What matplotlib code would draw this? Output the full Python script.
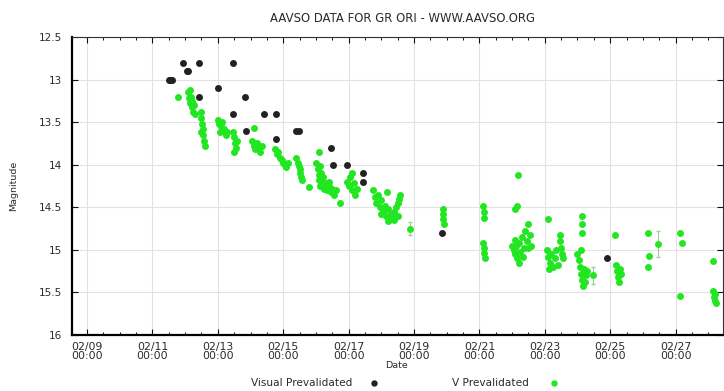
import numpy as np
import pandas as pd
import matplotlib
matplotlib.use('Agg')
import matplotlib.pyplot as plt
import matplotlib.dates as mdates

# observations, day of February 2013 and magnitude
vis_day = [11.50, 11.55, 11.60, 11.94, 12.05, 12.10, 12.43, 12.43, 13.47, 13.00,
           13.83, 13.47, 14.41, 14.78, 13.85, 14.78, 15.40, 15.48, 16.46, 16.52,
           16.95, 17.43, 17.45, 19.86, 24.90]
vis_mag = [13.0, 13.0, 13.0, 12.8, 12.9, 12.9, 12.8, 13.2, 12.8, 13.1,
           13.2, 13.4, 13.4, 13.4, 13.6, 13.7, 13.6, 13.6, 13.8, 14.0,
           14.0, 14.1, 14.2, 14.8, 15.1]

v_day = [11.78, 12.10, 12.12, 12.15, 12.18, 12.20, 12.22, 12.25, 12.28, 12.15, 12.30,
         12.48, 12.50, 12.52, 12.55, 12.55, 12.58, 12.60, 12.50,
         13.00, 13.05, 13.10, 13.12, 13.15, 13.20, 13.25, 13.28, 13.08,
         13.45, 13.50, 13.52, 13.55, 13.58, 13.50, 14.10,
         14.05, 14.10, 14.15, 14.20, 14.25, 14.30, 14.35,
         14.75, 14.80, 14.85, 14.90, 14.95, 15.00, 15.05, 15.10, 15.15,
         15.40, 15.45, 15.50, 15.52, 15.55, 15.58, 15.48, 15.80, 16.10,
         16.00, 16.05, 16.08, 16.10, 16.12, 16.15, 16.20, 16.25, 16.30, 16.35,
         16.40, 16.45, 16.50, 16.55, 16.60, 16.12, 16.75, 16.22, 16.40,
         16.95, 17.00, 17.05, 17.10, 17.15, 17.20, 17.25, 17.10,
         17.75, 17.80, 17.85, 17.90, 17.95, 18.00, 18.05, 18.10, 18.15, 18.20,
         18.25, 18.30, 18.35, 18.40, 18.45, 18.50, 18.55, 18.57, 18.50, 18.17,
         18.00, 18.20, 18.40,
         18.88, 19.88, 19.90, 19.90, 19.92,
         21.12, 21.14, 21.15, 21.12, 21.14, 21.15, 21.16,
         22.18, 22.08, 22.15,
         22.00, 22.05, 22.08, 22.10, 22.15, 22.20, 22.25, 22.30, 22.35, 22.40,
         22.45, 22.50, 22.55, 22.58, 22.20, 22.12, 22.32, 22.48, 23.10,
         23.07, 23.10, 23.15, 23.20, 23.25, 23.30, 23.35, 23.40, 23.12,
         23.45, 23.48, 23.50, 23.52, 23.55,
         24.14, 24.14, 24.14,
         24.00, 24.05, 24.08, 24.10, 24.15, 24.18, 24.20, 24.25, 24.12, 24.22, 24.28,
         24.48, 25.15, 25.18, 25.22, 25.25, 25.28, 25.30, 25.32,
         26.16, 26.20, 26.16, 26.46, 27.13, 27.20, 27.13,
         28.14, 28.15, 28.18, 28.20, 28.22, 28.25]
v_mag = [13.20, 13.15, 13.22, 13.28, 13.20, 13.32, 13.25, 13.38, 13.30, 13.12, 13.40,
         13.38, 13.45, 13.52, 13.58, 13.65, 13.72, 13.78, 13.62,
         13.48, 13.52, 13.55, 13.50, 13.60, 13.58, 13.65, 13.62, 13.62,
         13.62, 13.68, 13.75, 13.80, 13.72, 13.85, 13.57,
         13.72, 13.78, 13.82, 13.75, 13.80, 13.85, 13.78,
         13.82, 13.88, 13.85, 13.92, 13.95, 13.98, 14.00, 14.03, 13.98,
         13.92, 13.98, 14.05, 14.10, 14.15, 14.18, 14.02, 14.26, 13.85,
         13.98, 14.05, 14.12, 14.18, 14.25, 14.10, 14.20, 14.28, 14.22, 14.30,
         14.25, 14.32, 14.28, 14.35, 14.30, 14.02, 14.45, 14.15, 14.20,
         14.20, 14.25, 14.15, 14.30, 14.22, 14.35, 14.28, 14.10,
         14.30, 14.38, 14.45, 14.35, 14.50, 14.42, 14.55, 14.48, 14.60, 14.52,
         14.65, 14.58, 14.62, 14.55, 14.50, 14.45, 14.40, 14.35, 14.60, 14.32,
         14.58, 14.66, 14.65,
         14.75, 14.52, 14.58, 14.64, 14.70,
         14.48, 14.55, 14.62, 14.92, 14.98, 15.04, 15.10,
         14.12, 14.52, 14.48,
         14.95, 15.00, 14.88, 15.05, 15.10, 14.92, 15.02, 14.85, 14.98, 14.78,
         14.90, 14.70, 14.82, 14.95, 15.15, 14.96, 15.08, 14.98, 14.64,
         15.00, 15.08, 15.15, 15.05, 15.20, 15.10, 15.00, 15.18, 15.22,
         14.82, 14.90, 14.98, 15.05, 15.10,
         14.60, 14.70, 14.80,
         15.05, 15.12, 15.20, 15.28, 15.35, 15.42, 15.22, 15.30, 15.00, 15.38, 15.25,
         15.30, 14.83, 15.18, 15.25, 15.32, 15.38, 15.22, 15.28,
         14.80, 15.07, 15.20, 14.93, 14.80, 14.92, 15.54,
         15.13, 15.48, 15.55, 15.60, 15.52, 15.63]

# a few V estimates carry visible error bars
err_day = [18.88, 24.48, 26.46]
err_mag = [14.75, 15.30, 14.93]
err_size = [0.08, 0.10, 0.15]

base = pd.Timestamp('2013-02-01')
def to_dates(days):
    return base + pd.to_timedelta(np.array(days) - 1, unit='D')

plt.rcParams['font.family'] = ['DejaVu Sans']
txt = '#2a2a2a'
fig = plt.figure(figsize=(7.24, 3.91), dpi=100)
ax = fig.add_axes([72 / 724, 1 - 335 / 391, 651 / 724, 298 / 391])

green = '#22e622'
ax.errorbar(to_dates(err_day), err_mag, yerr=err_size, fmt='none',
            ecolor='#9acf9a', elinewidth=0.8, capsize=1.5, zorder=2)
ax.plot(to_dates(vis_day), vis_mag, 'o', color='#222222', ms=5.0, mew=0, zorder=3)
ax.plot(to_dates(v_day), v_mag, 'o', color=green, ms=5.0, mew=0, zorder=3)

ax.set_xlim(to_dates([8.54])[0], to_dates([28.45])[0])
ax.set_ylim(16, 12.5)
ax.set_yticks([12.5, 13, 13.5, 14, 14.5, 15, 15.5, 16])
ax.set_yticklabels(['12.5', '13', '13.5', '14', '14.5', '15', '15.5', '16'])

ax.xaxis.set_major_locator(mdates.DayLocator(bymonthday=range(1, 32, 2)))
ax.xaxis.set_minor_locator(mdates.HourLocator(byhour=[0, 12]))
ax.xaxis.set_major_formatter(mdates.DateFormatter('%m/%d\n%H:%M'))

ax.grid(True, which='major', color='#e2e2e2', lw=0.8)
ax.set_axisbelow(True)
ax.tick_params(which='both', direction='in', top=True, right=True, colors='#111111',
               labelcolor=txt)
ax.tick_params(which='major', length=4, width=0.8)
ax.tick_params(which='minor', length=2, width=0.7)
ax.tick_params(axis='x', which='major', pad=5, labelsize=7.8)
ax.tick_params(axis='y', which='major', pad=7, labelsize=7.5)
for t in ax.get_xticklabels():
    t.set_linespacing(0.85)

ax.spines['left'].set_linewidth(1.6)
ax.spines['bottom'].set_linewidth(1.6)
ax.spines['top'].set_linewidth(0.8)
ax.spines['top'].set_color('#333333')
ax.spines['right'].set_linewidth(0.8)
ax.spines['right'].set_color('#333333')

fig.text(402 / 724, 1 - 19 / 391, 'AAVSO DATA FOR GR ORI - WWW.AAVSO.ORG',
         ha='center', va='center', fontsize=8.4, color=txt)
fig.text(14 / 724, 1 - 186 / 391, 'Magnitude', rotation=90,
         ha='center', va='center', fontsize=6.8, color=txt)
fig.text(396 / 724, 1 - 365 / 391, 'Date', ha='center', va='center', fontsize=6.8, color=txt)

# legend row under the plot
fig.text(352 / 724, 1 - 383 / 391, 'Visual Prevalidated', ha='right', va='center',
         fontsize=7.6, color=txt)
fig.text(529 / 724, 1 - 383 / 391, 'V Prevalidated', ha='right', va='center',
         fontsize=7.6, color=txt)
fig.lines.append(plt.Line2D([374 / 724], [1 - 383 / 391], marker='o', color='#222222',
                            ms=4.6, mew=0, transform=fig.transFigure))
fig.lines.append(plt.Line2D([554 / 724], [1 - 383 / 391], marker='o', color=green,
                            ms=4.6, mew=0, transform=fig.transFigure))

fig.savefig('out.png', dpi=100, facecolor='white')
